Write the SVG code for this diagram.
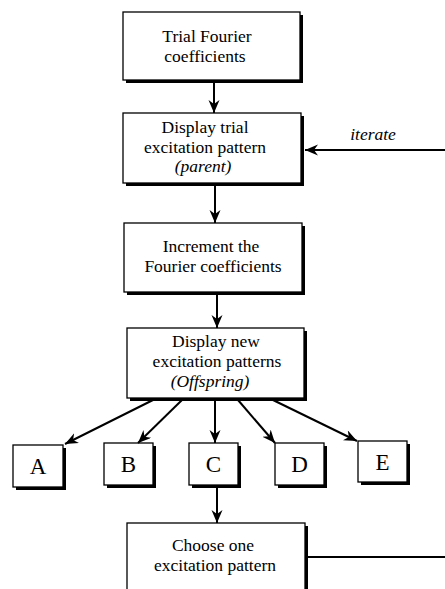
<svg xmlns="http://www.w3.org/2000/svg" width="445" height="589" viewBox="0 0 445 589">
<style>
.sh{fill:#000}
.bx{fill:#fff;stroke:#000;stroke-width:1.3}
.t{font-family:"Liberation Serif","Times New Roman",serif;font-size:17.5px;fill:#000;text-anchor:middle}
.i{font-style:italic}
.L{font-size:23px}
.c{fill:none;stroke:#000;stroke-width:2}
</style>
<defs>
<marker id="ah" markerUnits="userSpaceOnUse" markerWidth="14" markerHeight="12" refX="13" refY="5.5" orient="auto">
<path d="M0,0 L13,5.5 L0,11 L4,5.5 Z" fill="#000"/>
</marker>
</defs>
<rect width="445" height="589" fill="#fff"/>
<g id="n1">
<rect class="sh" x="126" y="15" width="177" height="68"/>
<rect class="bx" x="123" y="12" width="177" height="68"/>
<text class="t" x="207" y="42">Trial Fourier</text>
<text class="t" x="205" y="62">coefficients</text>
</g>
<g id="n2">
<rect class="sh" x="126" y="116" width="178" height="70"/>
<rect class="bx" x="123" y="113" width="178" height="70"/>
<text class="t" x="205" y="133">Display trial</text>
<text class="t" x="205" y="152.5">excitation pattern</text>
<text class="t i" x="203" y="172">(parent)</text>
</g>
<g id="n3">
<rect class="sh" x="127" y="226" width="178" height="69"/>
<rect class="bx" x="124" y="223" width="178" height="69"/>
<text class="t" x="211" y="252">Increment the</text>
<text class="t" x="213" y="272">Fourier coefficients</text>
</g>
<g id="n4">
<rect class="sh" x="130" y="331" width="177" height="70"/>
<rect class="bx" x="127" y="328" width="177" height="70"/>
<text class="t" x="216" y="347">Display new</text>
<text class="t" x="217" y="367">excitation patterns</text>
<text class="t i" x="210" y="387">(Offspring)</text>
</g>
<g id="nA">
<rect class="sh" x="16" y="448" width="50" height="42"/>
<rect class="bx" x="13" y="445" width="50" height="42"/>
<text class="t L" x="38" y="474">A</text>
</g>
<g id="nB">
<rect class="sh" x="107" y="446" width="49" height="42"/>
<rect class="bx" x="104" y="443" width="49" height="42"/>
<text class="t L" x="128.5" y="472">B</text>
</g>
<g id="nC">
<rect class="sh" x="192" y="446" width="49" height="42"/>
<rect class="bx" x="189" y="443" width="49" height="42"/>
<text class="t L" x="213.5" y="472">C</text>
</g>
<g id="nD">
<rect class="sh" x="278" y="446" width="49" height="42"/>
<rect class="bx" x="275" y="443" width="49" height="42"/>
<text class="t L" x="299.5" y="472">D</text>
</g>
<g id="nE">
<rect class="sh" x="361" y="444" width="49" height="41"/>
<rect class="bx" x="358" y="441" width="49" height="41"/>
<text class="t L" x="382.5" y="470">E</text>
</g>
<g id="n5">
<rect class="sh" x="130" y="526" width="178" height="80"/>
<rect class="bx" x="127" y="523" width="178" height="80"/>
<text class="t" x="213" y="551">Choose one</text>
<text class="t" x="215" y="570.5">excitation pattern</text>
</g>
<g id="connectors">
<path class="c" d="M214,80 L214,113" marker-end="url(#ah)"/>
<path class="c" d="M215,186 L215,223" marker-end="url(#ah)"/>
<path class="c" d="M217,295 L217,328" marker-end="url(#ah)"/>
<path class="c" d="M153,400 L65,444" marker-end="url(#ah)"/>
<path class="c" d="M182,400 L138,443" marker-end="url(#ah)"/>
<path class="c" d="M215,400 L215,443" marker-end="url(#ah)"/>
<path class="c" d="M238,400 L275,443" marker-end="url(#ah)"/>
<path class="c" d="M273,400 L357,441" marker-end="url(#ah)"/>
<path class="c" d="M217,488 L217,523" marker-end="url(#ah)"/>
<path class="c" d="M445,150 L305,150" marker-end="url(#ah)"/>
<path class="c" d="M308,557 L445,557"/>
<text class="t i" x="373" y="140">iterate</text>
</g>
</svg>
